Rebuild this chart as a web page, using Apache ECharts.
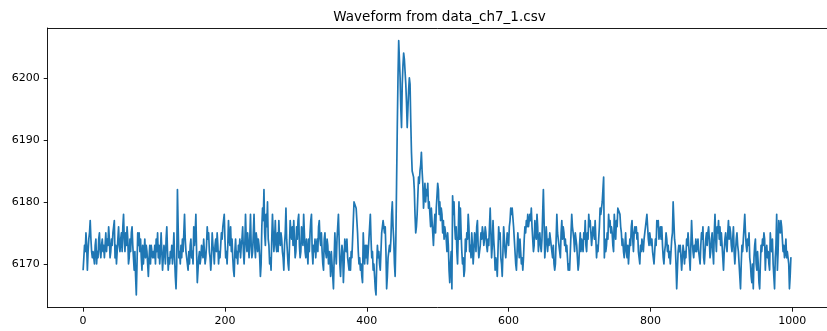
<!DOCTYPE html>
<html>
<head>
<meta charset="utf-8">
<script src="https://cdn.jsdelivr.net/npm/echarts@6/dist/echarts.min.js"></script>
<style>
  html, body { margin: 0; padding: 0; background: #fff; }
  #chart { width: 827px; height: 331px; }
</style>
</head>
<body>
<div id="chart"></div>
<script>
// Raw ADC samples of channel 7, in blocks of 100 samples
const seg0 = [
6169,6171,6173,6172,6175,6173,6169,6172,6174,6175,
6177,6174,6172,6171,6172,6171,6170,6173,6174,6170,
6172,6171,6174,6175,6172,6171,6173,6174,6172,6173,
6171,6173,6175,6172,6174,6173,6176,6174,6171,6172,
6174,6173,6175,6176,6177,6171,6173,6170,6170,6174,
6176,6173,6172,6174,6175,6172,6176,6178,6174,6172,
6175,6173,6176,6174,6170,6171,6174,6172,6175,6176,
6173,6171,6169,6172,6168,6165,6170,6175,6173,6175,
6172,6174,6171,6169,6173,6170,6172,6174,6171,6173,
6172,6170,6168,6171,6173,6170,6173,6172,6171,6172];
const seg1 = [
6171,6173,6170,6174,6172,6175,6171,6173,6170,6172,
6175,6172,6169,6171,6173,6172,6170,6174,6176,6172,
6169,6171,6170,6172,6171,6173,6170,6172,6175,6171,
6168,6166,6170,6182,6176,6171,6172,6170,6173,6171,
6174,6172,6175,6178,6174,6172,6171,6170,6169,6172,
6170,6173,6174,6171,6172,6170,6176,6173,6175,6178,
6172,6167,6169,6171,6172,6170,6171,6173,6172,6171,
6174,6172,6170,6171,6173,6176,6174,6175,6172,6171,
6169,6171,6175,6173,6172,6170,6173,6174,6172,6175,
6173,6170,6172,6171,6173,6175,6174,6176,6177,6178];
const seg2 = [
6174,6171,6172,6170,6173,6177,6174,6173,6176,6172,
6174,6171,6169,6168,6172,6174,6171,6172,6170,6173,
6172,6174,6171,6173,6174,6176,6172,6170,6173,6178,
6174,6172,6175,6173,6171,6174,6178,6173,6171,6172,
6175,6178,6173,6171,6175,6174,6172,6174,6173,6171,
6168,6170,6176,6179,6177,6182,6175,6173,6178,6176,
6180,6174,6173,6170,6171,6169,6174,6178,6175,6172,
6174,6177,6173,6172,6175,6172,6177,6174,6173,6175,
6174,6172,6171,6169,6173,6175,6179,6174,6172,6170,
6169,6173,6177,6175,6174,6176,6173,6177,6174,6171];
const seg3 = [
6172,6176,6174,6177,6178,6173,6171,6172,6176,6174,
6173,6178,6175,6172,6171,6174,6172,6170,6174,6172,
6175,6177,6178,6172,6170,6173,6172,6174,6171,6173,
6174,6172,6176,6177,6174,6173,6175,6172,6170,6169,
6174,6175,6172,6171,6174,6173,6170,6172,6171,6168,
6172,6170,6168,6166,6171,6175,6172,6170,6174,6176,
6178,6174,6170,6168,6171,6173,6172,6167,6170,6174,
6173,6172,6174,6171,6170,6169,6171,6169,6172,6171,
6174,6177,6180,6180,6180,6179,6177,6175,6172,6170,
6171,6169,6170,6168,6167,6175,6172,6170,6173,6171];
const seg4 = [
6173,6170,6172,6174,6176,6178,6174,6171,6172,6169,
6170,6168,6166,6165,6170,6173,6171,6172,6170,6169,
6172,6175,6176,6177,6177,6175,6176,6172,6166,6168,
6171,6172,6173,6172,6174,6178,6180,6176,6174,6170,
6168,6174,6183,6192,6200,6206,6203,6200,6195,6192,
6199,6202,6204,6203,6201,6199,6196,6192,6195,6198,
6200,6199,6193,6188,6185,6185,6184,6182,6178,6175,
6176,6178,6181,6184,6183,6185,6186,6188,6185,6183,
6179,6181,6183,6180,6182,6181,6183,6179,6180,6178,
6176,6179,6177,6175,6173,6176,6178,6175,6179,6181];
const seg5 = [
6183,6182,6178,6180,6177,6179,6178,6175,6177,6174,
6176,6175,6174,6172,6175,6173,6169,6167,6170,6172,
6166,6181,6178,6180,6176,6174,6176,6172,6170,6175,
6180,6174,6179,6175,6172,6170,6171,6168,6169,6174,
6172,6175,6174,6178,6176,6172,6173,6171,6175,6173,
6170,6172,6175,6174,6172,6176,6177,6173,6171,6172,
6173,6175,6174,6176,6175,6173,6174,6176,6175,6173,
6172,6174,6173,6176,6179,6175,6171,6173,6177,6174,
6172,6169,6171,6170,6168,6172,6176,6174,6175,6171,
6170,6168,6172,6176,6174,6172,6171,6173,6175,6174];
const seg6 = [
6173,6176,6177,6179,6178,6179,6179,6176,6174,6172,
6170,6169,6172,6175,6173,6171,6174,6172,6170,6171,
6169,6171,6174,6176,6175,6177,6176,6178,6176,6177,
6178,6177,6179,6176,6174,6172,6173,6177,6175,6174,
6178,6176,6172,6174,6175,6173,6172,6174,6178,6182,
6177,6171,6173,6176,6174,6172,6174,6173,6175,6174,
6173,6172,6171,6173,6170,6169,6170,6174,6178,6175,
6174,6173,6172,6171,6175,6177,6174,6176,6175,6173,
6174,6172,6173,6171,6169,6170,6169,6172,6175,6178,
6176,6175,6174,6172,6175,6174,6173,6171,6169,6170];
const seg7 = [
6173,6175,6172,6174,6173,6172,6175,6174,6177,6173,
6172,6175,6174,6178,6176,6177,6175,6173,6173,6176,
6175,6174,6177,6174,6171,6173,6172,6174,6176,6179,
6178,6179,6180,6182,6184,6171,6174,6172,6173,6175,
6174,6178,6176,6177,6175,6176,6175,6173,6172,6178,
6176,6174,6177,6176,6179,6179,6179,6178,6176,6175,
6173,6174,6172,6171,6173,6175,6172,6171,6173,6170,
6172,6174,6173,6176,6177,6174,6172,6175,6176,6175,
6176,6174,6175,6172,6171,6170,6173,6172,6174,6173,
6172,6174,6175,6176,6177,6178,6176,6174,6173,6175];
const seg8 = [
6175,6173,6174,6172,6171,6170,6172,6174,6173,6177,
6176,6177,6174,6175,6176,6174,6176,6173,6171,6170,
6172,6173,6175,6174,6172,6173,6171,6172,6170,6172,
6174,6175,6180,6177,6174,6173,6170,6166,6169,6172,
6173,6172,6173,6171,6169,6171,6173,6172,6170,6172,
6171,6174,6173,6175,6173,6171,6169,6173,6177,6174,
6172,6171,6173,6172,6174,6172,6173,6174,6172,6171,
6170,6173,6175,6174,6176,6171,6170,6172,6174,6175,
6173,6175,6176,6174,6171,6172,6174,6175,6172,6170,
6175,6178,6174,6172,6176,6175,6177,6174,6176,6173];
const seg9 = [
6175,6173,6171,6169,6172,6174,6175,6173,6172,6175,
6177,6174,6176,6175,6173,6172,6174,6176,6172,6170,
6172,6174,6175,6173,6172,6170,6168,6166,6170,6173,
6172,6174,6176,6178,6175,6173,6172,6174,6173,6175,
6171,6170,6168,6167,6170,6166,6171,6173,6174,6170,
6169,6172,6170,6167,6166,6170,6173,6172,6174,6173,
6175,6174,6169,6172,6173,6171,6172,6170,6169,6175,
6173,6172,6174,6170,6168,6166,6171,6173,6178,6169,
6172,6177,6176,6175,6177,6176,6174,6172,6173,6171,
6172,6174,6171,6172,6171,6170,6166,6168,6171,6171];

const samples = [].concat(seg0, seg1, seg2, seg3, seg4, seg5, seg6, seg7, seg8, seg9);

const titleText = 'Waveform from data_ch7_1.csv';
const xTicks = [0, 200, 400, 600, 800, 1000];
const yTicks = [6170, 6180, 6190, 6200];

// 5% padding around the data range on both axes
const n = samples.length;
const xPad = (n - 1) * 0.05;
const xMin = -xPad, xMax = (n - 1) + xPad;
const yMin = Math.min.apply(null, samples);
const yMax = Math.max.apply(null, samples);
const yPad = (yMax - yMin) * 0.05;

const gridLeft = 47.7, gridTop = 28, gridWidth = 783.6, gridHeight = 279.7;

const chart = echarts.init(document.getElementById('chart'), null, { renderer: 'canvas' });

const font = 'DejaVu Sans';
const plain = v => String(v);
const spine = { show: true, onZero: false, lineStyle: { color: '#000', width: 0.9 } };
const tickStyle = { color: '#000', width: 0.9 };
const labelStyle = { formatter: plain, margin: 8, color: '#000', fontSize: 11, fontFamily: font };

chart.setOption({
  animation: false,
  backgroundColor: '#fff',
  graphic: [{
    type: 'text',
    x: gridLeft + gridWidth / 2,
    y: 17,
    style: {
      text: titleText,
      fill: '#000',
      font: '13.5px "' + font + '"',
      textAlign: 'center',
      textVerticalAlign: 'middle'
    }
  }],
  grid: {
    left: gridLeft, top: gridTop, width: gridWidth, height: gridHeight,
    show: false, containLabel: false
  },
  xAxis: [{
    type: 'value',
    position: 'bottom',
    min: xMin,
    max: xMax,
    axisLine: spine,
    splitLine: { show: false },
    axisTick: { show: true, inside: false, length: 4, customValues: xTicks, lineStyle: tickStyle },
    axisLabel: Object.assign({ customValues: xTicks }, labelStyle)
  }, {
    // top spine only
    type: 'value',
    position: 'top',
    min: xMin,
    max: xMax,
    axisLine: spine,
    splitLine: { show: false },
    axisTick: { show: false },
    axisLabel: { show: false }
  }],
  yAxis: {
    type: 'value',
    position: 'left',
    min: yMin - yPad,
    max: yMax + yPad,
    axisLine: spine,
    splitLine: { show: false },
    axisTick: { show: true, inside: false, length: 4, customValues: yTicks, lineStyle: tickStyle },
    axisLabel: Object.assign({ customValues: yTicks }, labelStyle)
  },
  series: [{
    type: 'line',
    xAxisIndex: 0,
    yAxisIndex: 0,
    data: samples.map((v, i) => [i, v]),
    showSymbol: false,
    symbol: 'none',
    sampling: null,
    silent: true,
    lineStyle: { color: '#1f77b4', width: 1.7, join: 'round' }
  }]
});
</script>
</body>
</html>
